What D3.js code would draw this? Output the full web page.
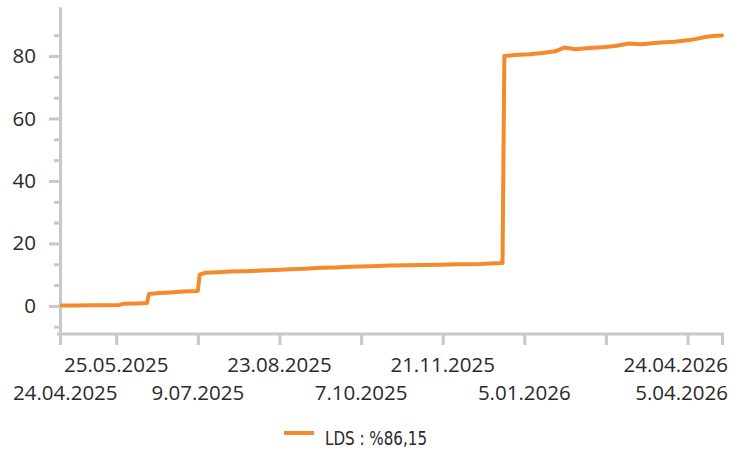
<!DOCTYPE html>
<html><head><meta charset="utf-8">
<script src="https://cdn.jsdelivr.net/npm/d3@7"></script>
<style>body{margin:0;background:#fff}</style>
</head><body>
<svg id="c" width="738" height="453"></svg>
<script>
// ---- data ----
const dates = ["2025-04-25","2025-05-03","2025-05-11","2025-05-19","2025-05-27","2025-05-29","2025-06-05","2025-06-11",
  "2025-06-12","2025-06-18","2025-06-24","2025-07-01","2025-07-09",
  "2025-07-10","2025-07-13","2025-07-20","2025-07-27","2025-08-04","2025-08-13","2025-08-21","2025-08-29","2025-09-06","2025-09-15","2025-09-23","2025-10-01","2025-10-12","2025-10-23","2025-11-02","2025-11-11","2025-11-20","2025-11-28","2025-12-06","2025-12-12","2025-12-17","2025-12-24",
  "2025-12-25","2025-12-31","2026-01-08","2026-01-15","2026-01-22","2026-01-27","2026-02-02","2026-02-10","2026-02-17","2026-02-24","2026-03-04","2026-03-10","2026-03-15","2026-03-21","2026-03-29","2026-04-06","2026-04-10","2026-04-14","2026-04-19","2026-04-24"];
const values = [0.1,0.1,0.2,0.2,0.3,0.7,0.8,0.9,
  3.8,4.1,4.3,4.6,4.8,
  10.0,10.6,10.8,11.0,11.1,11.3,11.5,11.7,11.9,12.2,12.3,12.5,12.7,12.9,13.0,13.1,13.2,13.3,13.3,13.4,13.6,13.7,
  80.0,80.3,80.6,81.0,81.5,82.7,82.2,82.6,82.8,83.2,84.0,83.8,84.0,84.3,84.6,85.1,85.5,86.0,86.4,86.6];
const yTicks = [0, 20, 40, 60, 80];
const yMinorTicks = [-6.67, 6.67, 13.33, 26.67, 33.33, 46.67, 53.33, 66.67, 73.33, 86.67];
const xTickDates = ["2025-04-24","2025-05-25","2025-07-09","2025-08-23","2025-10-07","2025-11-21","2026-01-05","2026-02-19","2026-04-05","2026-04-24"];
const xTickLabels = ["24.04.2025","25.05.2025","9.07.2025","23.08.2025","7.10.2025","21.11.2025","5.01.2026","","5.04.2026","24.04.2026"];
const xTickRows = [2, 1, 2, 1, 2, 1, 2, 0, 2, 1];
const legendLabel = "LDS : %86,15";

// ---- drawing ----
const parse = d3.utcParse("%Y-%m-%d");
const data = dates.map((d, i) => ({ date: parse(d), value: values[i] }));
const svg = d3.select("#c");
const axisColor = "#c8c8c8";
const textColor = "#2a2a2a";
const lineColor = "#f48a2b";
const font = "'Open Sans','Noto Sans',sans-serif";
const fontSize = "20.5px";

const x = d3.scaleUtc().domain([parse("2025-04-24"), parse("2026-04-24")]).range([60, 722]);
const y = d3.scaleLinear().domain([-9, 95.7]).range([334, 7]);

// y axis
const yAxis = svg.append("g").attr("transform", "translate(60,0)")
  .call(d3.axisLeft(y).tickValues(yTicks).tickSize(11).tickPadding(13).tickSizeOuter(0));
const yMinor = svg.append("g").attr("transform", "translate(60,0)")
  .call(d3.axisLeft(y).tickValues(yMinorTicks).tickSize(6).tickFormat("").tickSizeOuter(0));
[yAxis, yMinor].forEach(g => {
  g.select(".domain").attr("stroke", axisColor).attr("stroke-width", 3);
  g.selectAll(".tick line").attr("stroke", axisColor).attr("stroke-width", 3);
});
yAxis.selectAll(".tick text").attr("fill", textColor).style("font-family", font).style("font-size", fontSize);

// x axis
const xAxis = svg.append("g").attr("transform", "translate(0,334)")
  .call(d3.axisBottom(x).tickValues(xTickDates.map(parse)).tickSize(11).tickFormat("").tickSizeOuter(0));
xAxis.select(".domain").attr("stroke", axisColor).attr("stroke-width", 3)
  .attr("d", `M${x.range()[0]-3},0H${x.range()[1]+2}`);
xAxis.selectAll(".tick line").attr("stroke", axisColor).attr("stroke-width", 3);

const labels = svg.append("g");
xTickDates.forEach((d, i) => {
  if (!xTickLabels[i]) return;
  const t = labels.append("text")
    .attr("x", x(parse(d)))
    .attr("y", xTickRows[i] === 1 ? 372 : 400)
    .attr("text-anchor", "middle")
    .attr("fill", textColor)
    .style("font-family", font).style("font-size", fontSize)
    .text(xTickLabels[i]);
  const bb = t.node().getBBox();
  if (bb.x < 13) t.attr("x", x(parse(d)) + (13 - bb.x));
  if (bb.x + bb.width > 728) t.attr("x", x(parse(d)) - (bb.x + bb.width - 728));
});

// line
const line = d3.line().x(d => x(d.date)).y(d => y(d.value));
svg.append("path").datum(data)
  .attr("d", line).attr("fill", "none")
  .attr("stroke", lineColor).attr("stroke-width", 4)
  .attr("stroke-linejoin", "round").attr("stroke-linecap", "round");

// legend
const lg = svg.append("g");
lg.append("line").attr("x1", 284).attr("x2", 314).attr("y1", 433).attr("y2", 433)
  .attr("stroke", lineColor).attr("stroke-width", 4);
lg.append("text").attr("x", 325).attr("y", 445)
  .attr("fill", textColor)
  .attr("textLength", 102).attr("lengthAdjust", "spacingAndGlyphs")
  .style("font-family", "'Liberation Sans Narrow','DejaVu Sans Condensed',sans-serif")
  .style("font-stretch", "condensed")
  .style("font-size", "20px")
  .text(legendLabel);
</script>
</body></html>
